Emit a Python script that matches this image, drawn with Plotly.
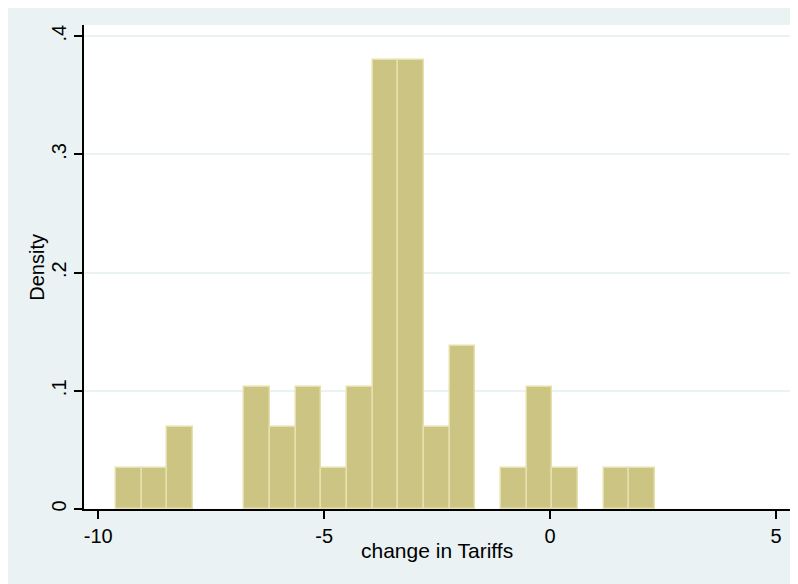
import plotly.graph_objects as go

# ---- data ----
bin_start = -9.608          # left edge of first bin
bin_width = 0.568           # width of each bin
densities = [0.0345, 0.0345, 0.069, 0.0, 0.0, 0.1036, 0.069, 0.1036, 0.0345,
             0.1036, 0.3797, 0.3797, 0.069, 0.138, 0.0, 0.0345, 0.1036, 0.0345,
             0.0, 0.0345, 0.0345]
x_tickvals = [-10, -5, 0, 5]
x_ticktext = ["-10", "-5", "0", "5"]
y_tickvals = [0, 0.1, 0.2, 0.3, 0.4]
y_ticktext = ["0", ".1", ".2", ".3", ".4"]
x_title = "change in Tariffs"
y_title = "Density"

# ---- build bars ----
centers = [bin_start + bin_width * (i + 0.5) for i in range(len(densities))]
xs = [c for c, d in zip(centers, densities) if d > 0]
ys = [d for d in densities if d > 0]

# page body adds an 8px offset, so the figure is 790x576
W, H = 790, 576
ML, MR, MT, MB = 76, 8, 17, 75
PW, PH = W - ML - MR, H - MT - MB

BG = "#eaf2f3"
FONT = "Arial, Liberation Sans, sans-serif"

fig = go.Figure(go.Bar(
    x=xs, y=ys, width=bin_width,
    marker=dict(color="#cbc483", line=dict(color="#e6e0ac", width=1.5)),
    hoverinfo="x+y",
))

fig.update_layout(
    width=W, height=H,
    margin=dict(l=ML, r=MR, t=MT, b=MB, autoexpand=False),
    paper_bgcolor=BG,
    plot_bgcolor="white",
    showlegend=False,
    bargap=0,
    font=dict(family=FONT, size=20, color="black"),
    xaxis=dict(
        range=[-10.316, 5.31],
        tickvals=x_tickvals, ticktext=x_ticktext,
        ticks="outside", ticklen=8, tickwidth=1.5, tickcolor="black",
        showline=True, linecolor="black", linewidth=1.5,
        showgrid=False, zeroline=False,
        tickfont=dict(size=20),
        automargin=False,
    ),
    yaxis=dict(
        range=[0, 0.4095],
        tickvals=y_tickvals, ticktext=y_ticktext,
        tickangle=-90,
        ticks="outside", ticklen=8, tickwidth=1.5, tickcolor="black",
        showline=True, linecolor="black", linewidth=1.5,
        showgrid=True, gridcolor=BG, gridwidth=1.5,
        zeroline=False,
        tickfont=dict(size=20),
        automargin=False,
    ),
    annotations=[
        dict(text=x_title, xref="paper", yref="paper",
             x=0.5, y=(PH - (542 - MT)) / PH - 1 + 1 - 0.0, showarrow=False,
             xanchor="center", yanchor="middle", font=dict(size=21)),
        dict(text=y_title, xref="paper", yref="paper",
             x=(28.7 - ML) / PW, y=0.5, showarrow=False, textangle=-90,
             xanchor="center", yanchor="middle", font=dict(size=20)),
    ],
)
# x-title vertical position: 542px from figure top
fig.layout.annotations[0].y = (H - MB - 542) / PH

fig.write_html("out.html")
